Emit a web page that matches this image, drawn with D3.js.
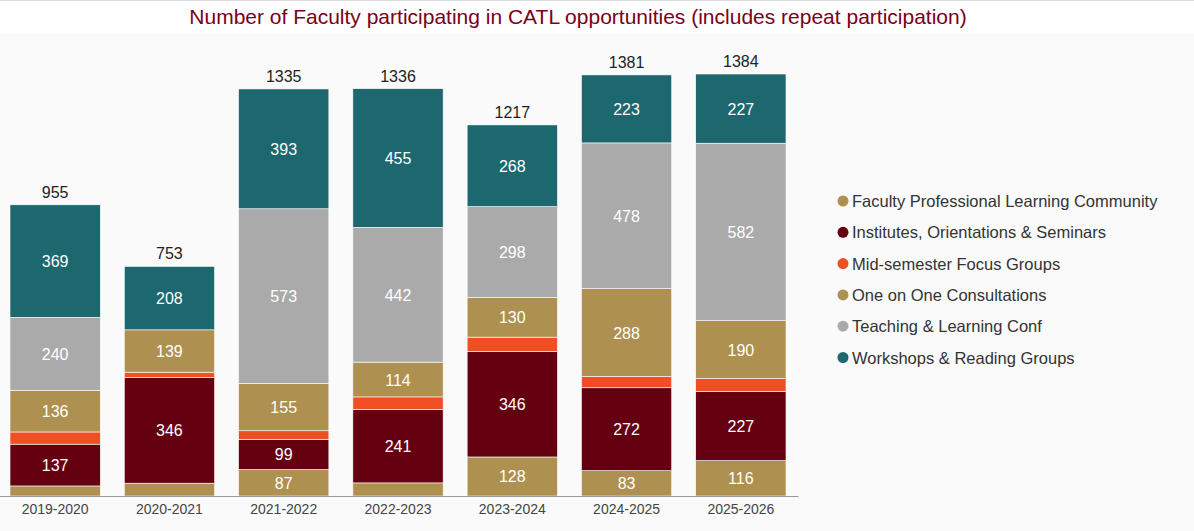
<!DOCTYPE html>
<html>
<head>
<meta charset="utf-8">
<script src="https://d3js.org/d3.v7.min.js"></script>
<style>
  body { margin: 0; background: #fff; font-family: "Liberation Sans", Arial, sans-serif; }
  text { font-family: "Liberation Sans", Arial, sans-serif; }
</style>
</head>
<body>
<div id="chart"></div>
<script>
"use strict"
// dados
var anos = ["2019-2020","2020-2021","2021-2022","2022-2023","2023-2024","2024-2025","2025-2026"];
var series = ["Faculty Professional Learning Community","Institutes, Orientations & Seminars","Mid-semester Focus Groups","One on One Consultations","Teaching & Learning Conf","Workshops & Reading Groups"];
var cores = ["#ae9150","#640010","#f04e23","#ae9150","#aaaaaa","#1c686e"];
var fplc       = [33, 42, 87, 43, 128, 83, 116];
var institutos = [137, 346, 99, 241, 346, 272, 227];
var midsem     = [40, 18, 28, 41, 47, 37, 42];
var umaum      = [136, 139, 155, 114, 130, 288, 190];
var conf       = [240, 0, 573, 442, 298, 478, 582];
var workshops  = [369, 208, 393, 455, 268, 223, 227];
var totais     = [955, 753, 1335, 1336, 1217, 1381, 1384];
var valores = [fplc, institutos, midsem, umaum, conf, workshops];

var W = 1194, H = 531, base = 496, topo = 74;
var svg = d3.select("#chart").append("svg").attr("width", W).attr("height", H);
svg.append("rect").attr("x", 0).attr("y", 34).attr("width", W).attr("height", H - 34).attr("fill", "#fafafa");
svg.append("line").attr("x1", 0).attr("x2", W).attr("y1", 0.5).attr("y2", 0.5).attr("stroke", "#ddd");

svg.append("text").attr("x", 578).attr("y", 24).attr("text-anchor", "middle")
  .attr("font-size", 21).attr("fill", "#7a0019")
  .text("Number of Faculty participating in CATL opportunities (includes repeat participation)");

var x = d3.scaleBand().domain(anos).range([-2, 798]).paddingInner(0.21).paddingOuter(0.105);
var y = d3.scaleLinear().domain([0, 1384]).range([base, topo]);

var linhas = anos.map(function (a, i) {
  var o = { ano: a };
  series.forEach(function (s, j) { o[s] = valores[j][i]; });
  return o;
});
var pilha = d3.stack().keys(series)(linhas);

var g = svg.selectAll("g.serie").data(pilha).enter().append("g").attr("fill", function (d, i) { return cores[i]; });
g.selectAll("rect").data(function (d) { return d; }).enter().append("rect")
  .attr("x", function (d) { return x(d.data.ano); })
  .attr("width", x.bandwidth())
  .attr("y", function (d) { return y(d[1]); })
  .attr("height", function (d) { return y(d[0]) - y(d[1]); })
  .attr("stroke", "#fff").attr("stroke-width", 0.6);

g.selectAll("text").data(function (d) { return d; }).enter()
  .filter(function (d) { return d[1] - d[0] >= 60; })
  .append("text")
  .attr("x", function (d) { return x(d.data.ano) + x.bandwidth() / 2; })
  .attr("y", function (d) { return (y(d[0]) + y(d[1])) / 2 + 6; })
  .attr("text-anchor", "middle").attr("font-size", 16).attr("fill", "#fff")
  .text(function (d) { return d[1] - d[0]; });

svg.selectAll("text.total").data(anos).enter().append("text")
  .attr("x", function (d) { return x(d) + x.bandwidth() / 2; })
  .attr("y", function (d, i) { return y(totais[i]) - 7; })
  .attr("text-anchor", "middle").attr("font-size", 16).attr("fill", "#222")
  .text(function (d, i) { return totais[i]; });

var eixo = svg.append("g").attr("transform", "translate(0," + base + ")")
  .call(d3.axisBottom(x).tickSize(0).tickPadding(8));
eixo.select(".domain").attr("stroke", "#999");
eixo.selectAll("text").attr("font-size", 14).attr("fill", "#444");

var leg = svg.selectAll("g.leg").data(series).enter().append("g")
  .attr("transform", function (d, i) { return "translate(843," + (201 + i * 31.3) + ")"; });
leg.append("circle").attr("r", 5.5).attr("fill", function (d, i) { return cores[i]; });
leg.append("text").attr("x", 9).attr("y", 6).attr("font-size", 16.5).attr("fill", "#333").text(function (d) { return d; });
</script>
</body>
</html>
